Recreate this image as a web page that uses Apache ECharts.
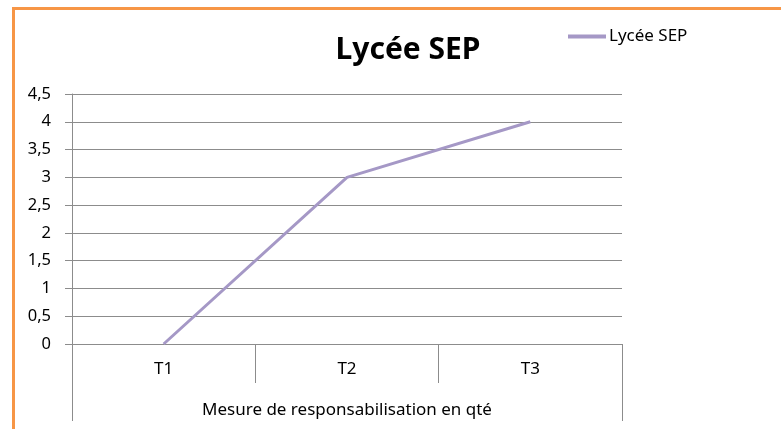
<!DOCTYPE html>
<html>
<head>
<meta charset="utf-8">
<script src="https://cdn.jsdelivr.net/npm/echarts@6/dist/echarts.min.js"></script>
<style>
  html, body { margin: 0; padding: 0; background: #fff; }
  #chart-area { width: 781px; height: 429px; }
</style>
</head>
<body>
<div id="chart-area"></div>
<script>
const categories = ['T1', 'T2', 'T3'];
const groupLabel = ['Mesure de responsabilisation en qté'];
const seriesName = 'Lycée SEP';
const values = [0, 3, 4];

const font = '"Noto Sans", "Open Sans", sans-serif';
const axisGrey = '#8c8c8c';

let chartDom = document.getElementById('chart-area');
let myChart = echarts.init(chartDom);
let option = {
	animation: false,
	textStyle: { fontFamily: font },
	title: {
		text: 'Lycée SEP',
		left: 403,
		top: 30,
		textAlign: 'center',
		textStyle: { fontSize: 30, fontWeight: 'bold', color: '#000', fontFamily: font }
	},
	legend: {
		data: [seriesName],
		left: 563,
		top: 23,
		itemWidth: 38,
		itemHeight: 4,
		itemGap: 4,
		icon: 'rect',
		textStyle: { fontSize: 17, color: '#000', padding: [0, 0, 0, -2] }
	},
	grid: { left: 72, right: 159, top: 94, bottom: 85 },
	xAxis: [
		{
			type: 'category',
			data: categories,
			position: 'bottom',
			axisLine: { lineStyle: { color: axisGrey, width: 1 } },
			axisTick: { show: true, length: 39, lineStyle: { color: axisGrey } },
			axisLabel: { color: '#000', fontSize: 17, margin: 17 }
		},
		{
			type: 'category',
			data: groupLabel,
			position: 'bottom',
			offset: 39,
			axisLine: { show: false },
			axisTick: { show: true, length: 38, lineStyle: { color: axisGrey } },
			axisLabel: { color: '#000', fontSize: 17, margin: 19 }
		}
	],
	yAxis: {
		type: 'value',
		min: 0,
		max: 4.5,
		interval: 0.5,
		axisLine: { show: true, lineStyle: { color: axisGrey } },
		axisTick: { show: true, length: 7, lineStyle: { color: axisGrey } },
		splitLine: { lineStyle: { color: axisGrey, width: 1 } },
		axisLabel: {
			color: '#000',
			fontSize: 16.5,
			margin: 21,
			formatter: v => String(v).replace('.', ',')
		}
	},
	series: [
		{
			name: seriesName,
			type: 'line',
			xAxisIndex: 0,
			data: values,
			symbol: 'none',
			lineStyle: { color: '#a598c6', width: 3 },
			itemStyle: { color: '#a598c6' }
		}
	],
	graphic: [
		{ type: 'line', shape: { x1: 12, y1: 8.5, x2: 781, y2: 8.5 }, style: { stroke: '#f79646', lineWidth: 3 } },
		{ type: 'line', shape: { x1: 13.5, y1: 7, x2: 13.5, y2: 429 }, style: { stroke: '#f79646', lineWidth: 3 } }
	]
};

option && myChart.setOption(option);
</script>
</body>
</html>
